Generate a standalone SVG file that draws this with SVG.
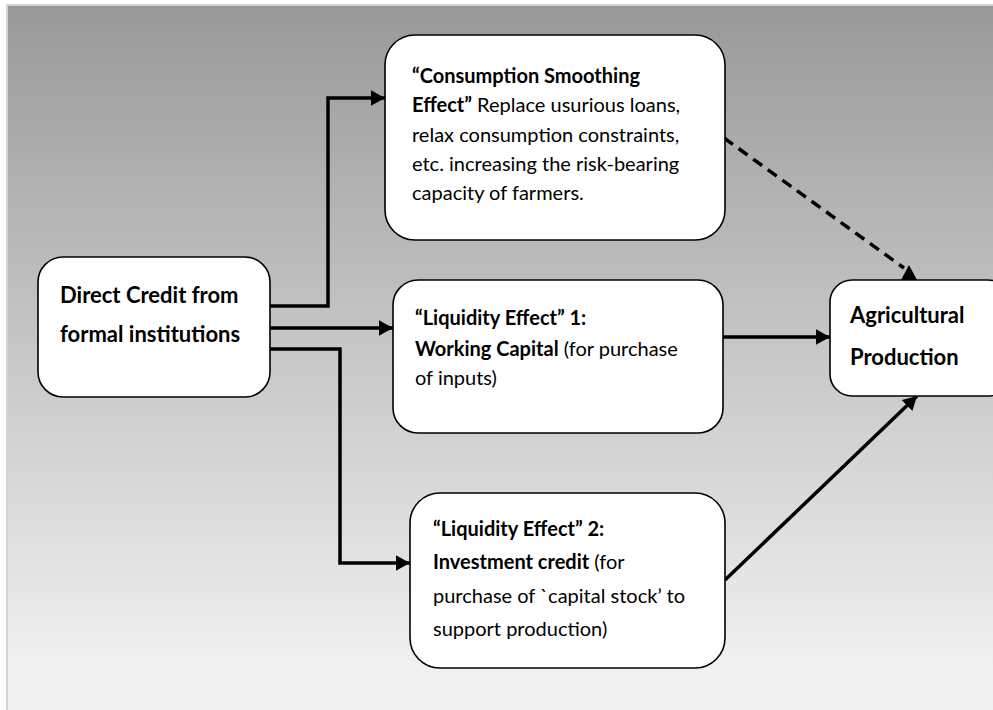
<svg xmlns="http://www.w3.org/2000/svg" width="993" height="710" viewBox="0 0 993 710">
  <defs>
    <linearGradient id="bg" gradientUnits="userSpaceOnUse" x1="0" y1="5" x2="0" y2="663">
      <stop offset="0" stop-color="#999999"/>
      <stop offset="1" stop-color="#f0f0f0"/>
    </linearGradient>
    <marker id="arr" viewBox="0 0 10 10" refX="10" refY="5" markerWidth="4" markerHeight="4.4" markerUnits="strokeWidth" orient="auto" preserveAspectRatio="none">
      <path d="M0,0 L10,5 L0,10 z" fill="#000"/>
    </marker>
    <style>
      .box { fill: #ffffff; stroke: #000000; stroke-width: 1.6; }
      .con { fill: none; stroke: #000000; stroke-width: 3.5; }
      .t { font-family: Lato, "Open Sans", "Liberation Sans", sans-serif; font-size: 20px; fill: #000; }
      .b { font-weight: bold; }
      .big { font-size: 22px; font-weight: bold; }
    </style>
  </defs>
  <rect x="0" y="0" width="993" height="710" fill="#ffffff"/>
  <rect x="7" y="5" width="990" height="710" fill="url(#bg)"/>
  <path d="M7,710 V5 H993" fill="none" stroke="#d2d2d2" stroke-width="2"/>

  <g id="connectors">
    <path class="con" d="M270,306 H328 V98 H385" marker-end="url(#arr)"/>
    <path class="con" d="M270,328 H393" marker-end="url(#arr)"/>
    <path class="con" d="M270,349 H340 V563 H410" marker-end="url(#arr)"/>
    <path class="con" d="M723,337 H830" marker-end="url(#arr)"/>
    <path class="con" d="M725,580 L917,396" marker-end="url(#arr)"/>
    <path class="con" d="M724,138 L904,268" stroke-dasharray="11,7"/>
    <polygon points="909,265 901,280 917,280" fill="#000"/>
  </g>

  <g id="consumption">
    <rect class="box" x="385" y="35" width="340" height="205" rx="30" ry="30"/>
    <text class="t" x="412" y="83"><tspan class="b">“Consumption Smoothing</tspan></text>
    <text class="t" x="412" y="112"><tspan class="b">Effect”</tspan> Replace usurious loans,</text>
    <text class="t" x="412" y="142">relax consumption constraints,</text>
    <text class="t" x="412" y="171">etc. increasing the risk-bearing</text>
    <text class="t" x="412" y="200">capacity of farmers.</text>
  </g>

  <g id="direct-credit">
    <rect class="box" x="38" y="257" width="232" height="140" rx="25" ry="25"/>
    <text class="t big" x="60" y="303">Direct Credit from</text>
    <text class="t big" x="60" y="342">formal institutions</text>
  </g>

  <g id="liquidity1">
    <rect class="box" x="393" y="280" width="330" height="153" rx="25" ry="25"/>
    <text class="t b" x="415" y="325">“Liquidity Effect” 1:</text>
    <text class="t" x="415" y="356"><tspan class="b">Working Capital</tspan> (for purchase</text>
    <text class="t" x="415" y="385">of inputs)</text>
  </g>

  <g id="agricultural">
    <rect class="box" x="830" y="280" width="180" height="116" rx="22" ry="22"/>
    <text class="t big" x="850" y="323">Agricultural</text>
    <text class="t big" x="850" y="365">Production</text>
  </g>

  <g id="liquidity2">
    <rect class="box" x="410" y="493" width="315" height="175" rx="30" ry="30"/>
    <text class="t b" x="433" y="536">“Liquidity Effect” 2:</text>
    <text class="t" x="433" y="569"><tspan class="b">Investment credit</tspan> (for</text>
    <text class="t" x="433" y="603">purchase of `capital stock’ to</text>
    <text class="t" x="433" y="636">support production)</text>
  </g>
</svg>
